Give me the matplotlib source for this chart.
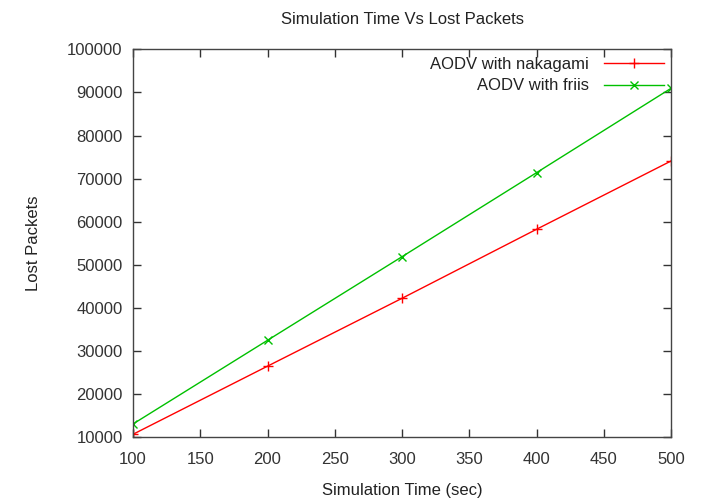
import matplotlib
matplotlib.use('Agg')
import matplotlib.pyplot as plt

plt.rcParams['font.family'] = ['Liberation Sans', 'DejaVu Sans']

simTime = [100, 200, 300, 400, 500]
nakagamiLost = [10700, 26500, 42240, 58250, 74090]
friisLost = [13090, 32500, 51890, 71380, 90950]

fig = plt.figure(figsize=(7.03, 5.0), dpi=100)
ax = fig.add_axes([0.1892, 0.1254, 0.7653, 0.776])

ax.plot(simTime, nakagamiLost, color='#ff0000', marker='+', markersize=7,
        linewidth=1, markeredgewidth=1, label='AODV with nakagami')
ax.plot(simTime, friisLost, color='#00c000', marker='x', markersize=6,
        linewidth=1, markeredgewidth=1, label='AODV with friis')

ax.set_xlim(100, 500)
ax.set_ylim(10000, 100000)
ax.set_xticks(range(100, 501, 50))
ax.set_yticks(range(10000, 100001, 10000))

ax.tick_params(direction='in', top=True, right=True, length=6, width=1,
               labelsize=12, colors='#333333')
ax.tick_params(axis='x', pad=10.5)
ax.tick_params(axis='y', pad=7.5)
for s in ax.spines.values():
    s.set_color('#444444')
    s.set_linewidth(1)

ax.set_title('Simulation Time Vs Lost Packets', fontsize=12, color='#222222', pad=18)
ax.set_xlabel('Simulation Time (sec)', fontsize=12, color='#222222', labelpad=11.5)
ax.set_ylabel('Lost Packets', fontsize=12, color='#222222', labelpad=19)

leg = ax.legend(loc='upper right', frameon=False, markerfirst=False, fontsize=12,
                handlelength=3.6, borderaxespad=0.05, labelspacing=0.4,
                handletextpad=0.9)
for t in leg.get_texts():
    t.set_color('#222222')

fig.savefig('out.png', dpi=100)
